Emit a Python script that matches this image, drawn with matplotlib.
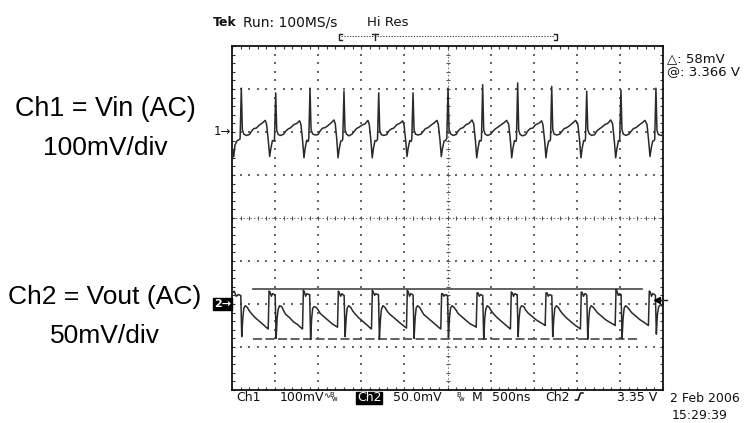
import matplotlib
matplotlib.use('Agg')
import matplotlib.pyplot as plt
import numpy as np
from matplotlib.lines import Line2D
from matplotlib.patches import Rectangle

# ---------------- data ----------------
# time in ns (500 ns/div, 10 div), Ch1 in mV (100 mV/div), Ch2 in mV (50 mV/div)
t1 = [0, 20, 35, 60, 80,
      94, 108, 120, 137, 166, 201, 224, 253, 282, 317, 352, 386, 401, 421, 437, 451, 469, 486,
      493, 507, 519, 536, 565, 600, 623, 652, 681, 716, 751, 785, 800, 820, 835, 849, 867, 884,
      891, 905, 917, 934, 963, 998, 1021, 1050, 1079, 1114, 1149, 1183, 1198, 1216, 1230, 1244, 1262, 1279,
      1285, 1299, 1311, 1328, 1357, 1392, 1415, 1444, 1473, 1508, 1543, 1577, 1592, 1612, 1627, 1641, 1659, 1676,
      1688, 1702, 1714, 1731, 1760, 1795, 1818, 1847, 1876, 1911, 1946, 1980, 1995, 2015, 2030, 2044, 2062, 2079,
      2086, 2100, 2112, 2129, 2158, 2193, 2216, 2245, 2274, 2309, 2344, 2378, 2393, 2413, 2428, 2442, 2460, 2477,
      2492, 2506, 2518, 2535, 2564, 2599, 2622, 2651, 2680, 2715, 2750, 2784, 2804, 2824, 2839, 2853, 2871, 2888,
      2894, 2908, 2920, 2937, 2966, 3001, 3024, 3053, 3082, 3117, 3152, 3186, 3210, 3230, 3245, 3259, 3277, 3294,
      3300, 3314, 3326, 3343, 3372, 3407, 3430, 3459, 3488, 3523, 3558, 3592, 3607, 3627, 3642, 3656, 3674, 3691,
      3695, 3709, 3721, 3738, 3767, 3802, 3825, 3854, 3883, 3918, 3953, 3987, 4012, 4032, 4048, 4062, 4080, 4095,
      4101, 4115, 4127, 4144, 4173, 4208, 4231, 4260, 4289, 4324, 4359, 4393, 4415, 4435, 4451, 4465, 4483, 4494,
      4498, 4512, 4524, 4541, 4570, 4605, 4628, 4657, 4686, 4721, 4756, 4790, 4814, 4834, 4849, 4863, 4881, 4898,
      4904, 4918, 4930, 4947, 4976, 5000]
v1 = [-32, -58, -30, -20, -18,
      -16, 102, 5, -5, -8, -6, 1, 8, 9, 16, 21, 27, 18, -20, -57, -38, -20, -21,
      -17, 91, 4, -6, -8, -5, 2, 7, 10, 17, 20, 26, 17, -22, -60, -37, -19, -22,
      -15, 102, 6, -4, -7, -6, 2, 9, 10, 15, 21, 28, 19, -18, -60, -39, -21, -20,
      -16, 95, 5, -5, -9, -5, 1, 8, 11, 16, 19, 27, 18, -21, -60, -38, -20, -21,
      -17, 91, 4, -6, -8, -6, 2, 7, 9, 17, 20, 26, 17, -20, -57, -37, -20, -22,
      -16, 91, 5, -5, -7, -5, 1, 8, 10, 16, 21, 27, 18, -19, -57, -38, -21, -20,
      -15, 102, 6, -4, -8, -6, 2, 8, 10, 17, 20, 28, 19, -20, -60, -39, -20, -21,
      -16, 110, 5, -5, -8, -5, 1, 7, 11, 16, 21, 27, 18, -21, -60, -38, -20, -22,
      -17, 114, 4, -6, -9, -6, 2, 8, 9, 17, 20, 26, 17, -20, -60, -37, -21, -20,
      -16, 106, 5, -5, -7, -5, 1, 8, 10, 15, 21, 27, 18, -19, -60, -38, -20, -21,
      -15, 95, 6, -4, -8, -6, 2, 7, 11, 17, 20, 28, 19, -20, -60, -39, -20, -21,
      -16, 98, 5, -5, -8, -5, 1, 8, 10, 16, 21, 27, 18, -21, -57, -38, -21, -20,
      -17, 102, 4, -6, -8, -7]

t2 = [0, 25, 50, 75, 96,
      102, 113, 125, 137, 154, 178, 201, 224, 270, 317, 363, 406, 420, 430, 441, 456, 471, 491,
      501, 512, 524, 536, 553, 577, 600, 623, 669, 716, 762, 804, 818, 828, 839, 854, 869, 889,
      901, 912, 924, 936, 953, 977, 1000, 1023, 1069, 1116, 1162, 1210, 1224, 1234, 1245, 1260, 1275, 1295,
      1301, 1312, 1324, 1336, 1353, 1377, 1400, 1423, 1469, 1516, 1562, 1604, 1618, 1628, 1639, 1654, 1669, 1689,
      1699, 1710, 1722, 1734, 1751, 1775, 1798, 1821, 1867, 1914, 1960, 2010, 2024, 2034, 2045, 2060, 2075, 2095,
      2101, 2112, 2124, 2136, 2153, 2177, 2200, 2223, 2269, 2316, 2362, 2408, 2422, 2432, 2443, 2458, 2473, 2493,
      2500, 2511, 2523, 2535, 2552, 2576, 2599, 2622, 2668, 2715, 2761, 2819, 2833, 2843, 2854, 2869, 2884, 2904,
      2909, 2920, 2932, 2944, 2961, 2985, 3008, 3031, 3077, 3124, 3170, 3216, 3230, 3240, 3251, 3266, 3281, 3301,
      3308, 3319, 3331, 3343, 3360, 3384, 3407, 3430, 3476, 3523, 3569, 3619, 3633, 3643, 3654, 3669, 3684, 3704,
      3710, 3721, 3733, 3745, 3762, 3786, 3809, 3832, 3878, 3925, 3971, 4028, 4042, 4052, 4063, 4078, 4093, 4113,
      4116, 4127, 4139, 4151, 4168, 4192, 4215, 4238, 4284, 4331, 4377, 4431, 4445, 4455, 4466, 4481, 4496, 4509,
      4514, 4525, 4537, 4549, 4566, 4590, 4613, 4636, 4682, 4729, 4775, 4817, 4831, 4841, 4852, 4867, 4882, 4902,
      4912, 4923, 4935, 4950, 4970, 5000]
v2 = [12, 15, 9, 11, 10,
      10, -38, -17, -5, -2, -4, -8, -11, -16, -20, -24, -28, -29, 15, 14, 9, 12, 11,
      10, -40, -16, -6, -2, -3, -8, -12, -16, -21, -24, -28, -29, 16, 14, 9, 12, 11,
      11, -41, -17, -5, -3, -4, -7, -11, -15, -19, -23, -26, -27, 15, 13, 9, 12, 10,
      10, -38, -17, -5, -2, -4, -8, -11, -16, -20, -24, -28, -29, 16, 14, 10, 12, 11,
      11, -41, -18, -6, -2, -4, -8, -11, -15, -19, -23, -27, -28, 16, 14, 9, 12, 11,
      10, -40, -17, -5, -2, -4, -8, -12, -16, -20, -24, -28, -29, 12, 12, 9, 11, 10,
      10, -39, -16, -5, -2, -4, -7, -11, -15, -19, -23, -26, -27, 13, 13, 9, 11, 10,
      10, -41, -17, -6, -2, -4, -8, -11, -16, -20, -24, -28, -29, 14, 13, 9, 12, 11,
      11, -38, -16, -5, -2, -3, -7, -10, -14, -18, -21, -24, -25, 13, 13, 9, 11, 10,
      10, -38, -17, -5, -2, -4, -8, -11, -16, -20, -24, -28, -29, 14, 13, 9, 12, 11,
      10, -41, -17, -5, -2, -4, -7, -10, -14, -18, -21, -24, -25, 17, 15, 10, 12, 11,
      11, -40, -17, -5, -2, -4, -7, -10, -14, -18, -21, -24, -25, 15, 14, 9, 12, 11,
      10, -35, -12, -3, -1, -3]

ch1_scale_mV = 100
ch2_scale_mV = 50
ch1_offset_div = 2.0
ch2_offset_div = -2.0
cursor_top_mV = 17
cursor_bot_mV = -41
cursor_t = [244, 4753]

left_labels = ["Ch1 = Vin (AC)", "100mV/div", "Ch2 = Vout (AC)", "50mV/div"]

# ---------------- figure ----------------
W, H = 752, 423
plt.rcParams['lines.scale_dashes'] = False
fig = plt.figure(figsize=(W / 100, H / 100), dpi=100)
fig.patch.set_facecolor('white')


def fx(x):
    return x / W


def fy(y):
    return 1 - y / H


def pline(xs, ys, **kw):
    fig.add_artist(Line2D([fx(x) for x in xs], [fy(y) for y in ys],
                          transform=fig.transFigure, **kw))


X0, X1, Y0, Y1 = 232, 663, 46, 390
ax = fig.add_axes([fx(X0), fy(Y1), (X1 - X0) / W, (Y1 - Y0) / H])
ax.set_xlim(0, 5000)
ax.set_ylim(-4, 4)
ax.set_xticks([])
ax.set_yticks([])
for s in ax.spines.values():
    s.set_linewidth(1.3)
    s.set_color('#111111')

# graticule
gx = np.arange(0, 5001, 100)
gy = np.round(np.arange(-4, 4.001, 0.2), 3)
dot = dict(s=1.1, c='#666666', marker='s', linewidths=0, zorder=1)
for k in range(1, 10):
    if k != 5:
        ax.scatter(np.full(len(gy), 500 * k), gy, **dot)
for k in range(-3, 4):
    if k != 0:
        ax.scatter(gx, np.full(len(gx), k), **dot)
ax.plot([2500, 2500], [-4, 4], ls=(0, (1, 1.6)), lw=0.7, color='#666666', zorder=1)
ax.plot([0, 5000], [0, 0], ls=(0, (1, 1.6)), lw=0.7, color='#666666', zorder=1)
ax.plot(np.full(len(gy), 2500), gy, ls='none', marker='_', ms=3.2, mew=0.8, color='#555555', zorder=1)
ax.plot(gx, np.zeros(len(gx)), ls='none', marker='|', ms=3.2, mew=0.8, color='#555555', zorder=1)
tk = dict(ls='none', ms=2.0, mew=0.8, color='#333333', clip_on=False, zorder=1)
ax.plot(gx, np.full(len(gx), 4), marker=3, **tk)
ax.plot(gx, np.full(len(gx), -4), marker=2, **tk)
ax.plot(np.zeros(len(gy)), gy, marker=1, **tk)
ax.plot(np.full(len(gy), 5000), gy, marker=0, **tk)

# traces
y1 = np.array(v1) / ch1_scale_mV + ch1_offset_div
y2 = np.array(v2) / ch2_scale_mV + ch2_offset_div
ax.plot(t1, y1, color='#2a2a2a', lw=1.1, zorder=3)
ax.plot(t2, y2, color='#2a2a2a', lw=1.1, zorder=3)

# cursors
ax.plot(cursor_t, [cursor_top_mV / ch2_scale_mV + ch2_offset_div] * 2, color='#555555', lw=1.3, zorder=2)
ax.plot([cursor_t[0], cursor_t[1] - 20], [cursor_bot_mV / ch2_scale_mV + ch2_offset_div] * 2,
        color='#555555', lw=1.3, ls=(0, (6.5, 2.5)), zorder=2)

# ---------------- scope text ----------------
sf = dict(family='DejaVu Sans', fontsize=9, color='#111111', va='baseline', ha='left')
fig.text(fx(212.7), fy(26.3), 'Tek', fontweight='bold', **sf)
fig.text(fx(243.3), fy(26.3), 'Run: 100MS/s', **{**sf, 'fontsize': 10})
fig.text(fx(366.7), fy(26.3), 'Hi Res', **{**sf, 'fontsize': 9.5})

# record bracket
pline([341.5, 339, 339, 341.5], [33.5, 33.5, 40.5, 40.5], lw=1, color='#222222')
pline([553.5, 556.5, 556.5, 553.5], [33.5, 33.5, 40.5, 40.5], lw=1, color='#222222')
pline([341, 554], [36.5, 36.5], ls=(0, (1, 1)), lw=0.7, color='#444444')
pline([371.5, 378.5], [33.5, 33.5], lw=1, color='#222222')
pline([375, 375], [33.5, 40.5], lw=1, color='#222222')

fig.text(fx(666.7), fy(62.3), '△: 58mV', **{**sf, 'fontsize': 9.5})
fig.text(fx(666.7), fy(75.5), '@: 3.366 V', **{**sf, 'fontsize': 9.5})

# channel markers
fig.text(fx(231), fy(131.7), '1→', family='DejaVu Sans', fontsize=8.5, ha='right', va='center', color='#111111')
fig.add_artist(Rectangle((fx(213.3), fy(310)), (231.7 - 213.3) / W, (310 - 298.3) / H,
                         transform=fig.transFigure, color='black'))
fig.text(fx(222.5), fy(304.2), '2→', family='DejaVu Sans', fontsize=8, fontweight='bold',
         ha='center', va='center', color='white')

# trigger level marker
fig.add_artist(Line2D([fx(657)], [fy(300)], marker='<', ms=5, color='black', transform=fig.transFigure))
pline([658, 667], [300, 300], lw=1, color='#222222')

# bottom status row
by = 400.5
fig.text(fx(236.7), fy(by), 'Ch1', **sf)
fig.text(fx(280), fy(by), '100mV', **sf)
fig.text(fx(323.5), fy(by - 2), '∿', family='DejaVu Sans', fontsize=6, va='baseline', color='#111111')
fig.text(fx(329), fy(396.5), 'B', family='DejaVu Sans', fontsize=5, va='baseline', color='#111111')
fig.text(fx(331.5), fy(401), 'w', family='DejaVu Sans', fontsize=5, va='baseline', color='#111111')
fig.add_artist(Rectangle((fx(355.7), fy(403.5)), (381.7 - 355.7) / W, 12 / H,
                         transform=fig.transFigure, color='black'))
fig.text(fx(357), fy(by), 'Ch2', family='DejaVu Sans', fontsize=9, va='baseline', color='white')
fig.text(fx(392.7), fy(by), '50.0mV', **sf)
fig.text(fx(456), fy(396.5), 'B', family='DejaVu Sans', fontsize=5, va='baseline', color='#111111')
fig.text(fx(459), fy(401), 'w', family='DejaVu Sans', fontsize=5, va='baseline', color='#111111')
fig.text(fx(471.7), fy(by), 'M', **sf)
fig.text(fx(491.7), fy(by), '500ns', **sf)
fig.text(fx(545), fy(by), 'Ch2', **sf)
pline([575.5, 578, 580.5, 583], [400, 400, 393, 393], lw=1.1, color='#111111')
fig.text(fx(616.7), fy(by), '3.35 V', **sf)
fig.text(fx(670), fy(401.7), '2 Feb 2006', **sf)
fig.text(fx(671.7), fy(419.3), '15:29:39', **sf)

# left annotation labels
lf = dict(family='Liberation Sans', fontsize=19, ha='center', va='baseline', color='black')
fig.text(fx(105), fy(116.5), left_labels[0], **{**lf, 'fontsize': 19.4})
fig.text(fx(105), fy(155), left_labels[1], **lf)
fig.text(fx(105), fy(304), left_labels[2], **lf)
fig.text(fx(105), fy(342.7), left_labels[3], **lf)

fig.savefig('out.png', dpi=100, facecolor='white')
